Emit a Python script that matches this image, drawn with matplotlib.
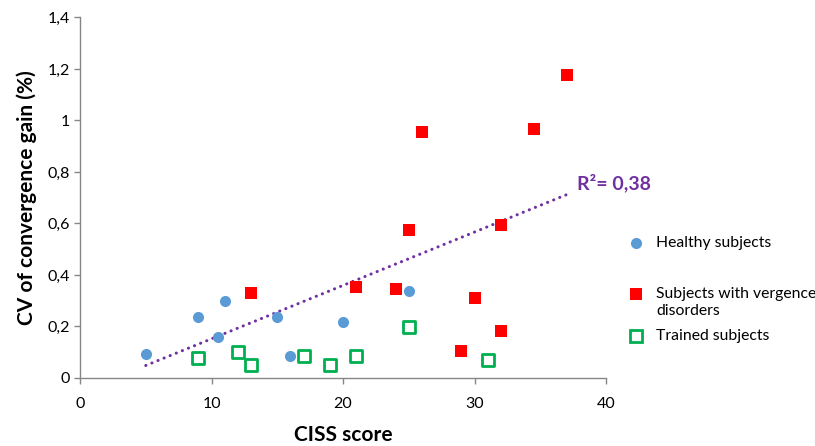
import numpy as np
import matplotlib
matplotlib.use("Agg")
import matplotlib.pyplot as plt
from matplotlib.lines import Line2D

plt.rcParams['font.family'] = ['Lato', 'DejaVu Sans']

healthy_x = [5, 9, 10.5, 11, 15, 16, 20, 25]
healthy_y = [0.092, 0.235, 0.16, 0.298, 0.237, 0.087, 0.218, 0.336]

disorder_x = [13, 21, 24, 25, 26, 29, 30, 32, 32, 34.5, 37]
disorder_y = [0.33, 0.352, 0.347, 0.576, 0.955, 0.105, 0.31, 0.182, 0.594, 0.966, 1.176]

trained_x = [9, 12, 13, 17, 19, 21, 25, 31]
trained_y = [0.076, 0.10, 0.049, 0.086, 0.051, 0.085, 0.198, 0.071]

x_ticks = [0, 10, 20, 30, 40]
y_ticks = [0, 0.2, 0.4, 0.6, 0.8, 1.0, 1.2, 1.4]
y_tick_labels = ['0', '0,2', '0,4', '0,6', '0,8', '1', '1,2', '1,4']

labels = ['Healthy subjects', 'Subjects with vergence\ndisorders', 'Trained subjects']

fig = plt.figure(figsize=(8.15, 4.46), dpi=100)
ax = fig.add_axes([0.0982, 0.1525, 0.6454, 0.8083])

blue = '#5B9BD5'
red = '#FF0000'
green = '#00B050'
purple = '#7030A0'

ax.scatter(healthy_x, healthy_y, s=64, c=blue, marker='o', linewidths=0, zorder=3)
ax.scatter(disorder_x, disorder_y, s=80, c=red, marker='s', linewidths=0, zorder=3)
ax.scatter(trained_x, trained_y, s=80, facecolors='white', edgecolors=green,
           marker='s', linewidths=2, zorder=3)

# linear trend line fitted on healthy + vergence-disorder subjects
fx = np.array(healthy_x + disorder_x)
fy = np.array(healthy_y + disorder_y)
slope, intercept = np.polyfit(fx, fy, 1)
tx = np.array([fx.min(), fx.max()])
ax.plot(tx, slope * tx + intercept, color=purple, lw=2.2,
        linestyle=(0, (0.05, 2.1)), dash_capstyle='round', zorder=2)
ax.text(37.8, slope * 37 + intercept + 0.045, 'R²= 0,38', color=purple,
        fontsize=14, fontweight='bold', va='center', ha='left')

ax.set_xlim(0, 40)
ax.set_ylim(0, 1.4)
ax.set_xticks(x_ticks)
ax.set_yticks(y_ticks)
ax.set_yticklabels(y_tick_labels)
for s in ['top', 'right']:
    ax.spines[s].set_visible(False)
for s in ['left', 'bottom']:
    ax.spines[s].set_color('#868686')
    ax.spines[s].set_linewidth(1)
ax.tick_params(axis='both', direction='out', length=4, width=1, color='#868686',
               labelsize=11.5, labelcolor='#000000')
ax.tick_params(axis='x', pad=10)
ax.tick_params(axis='y', pad=3)
ax.set_xlabel('CISS score', fontsize=15, fontweight='bold', labelpad=10)
ax.set_ylabel('CV of convergence gain (%)', fontsize=15, fontweight='bold', labelpad=8)

# legend drawn manually (Excel-style spacing)
marker_x = 636 / 815
text_x = 656 / 815
entries = [
    (1 - 243 / 446, 1 - 243 / 446,
     dict(marker='o', color=blue, markersize=8, markeredgewidth=0)),
    (1 - 294 / 446, 1 - 302.5 / 446,
     dict(marker='s', color=red, markersize=8, markeredgewidth=0)),
    (1 - 336 / 446, 1 - 336 / 446,
     dict(marker='s', markerfacecolor='white', markeredgecolor=green,
          markersize=8, markeredgewidth=2)),
]
for (my, ty, mk), lab in zip(entries, labels):
    fig.add_artist(Line2D([marker_x], [my], linestyle='none',
                          transform=fig.transFigure, **mk))
    fig.text(text_x, ty, lab, fontsize=11.3, va='center', ha='left',
             linespacing=1.2)

fig.savefig('out.png', dpi=100)
